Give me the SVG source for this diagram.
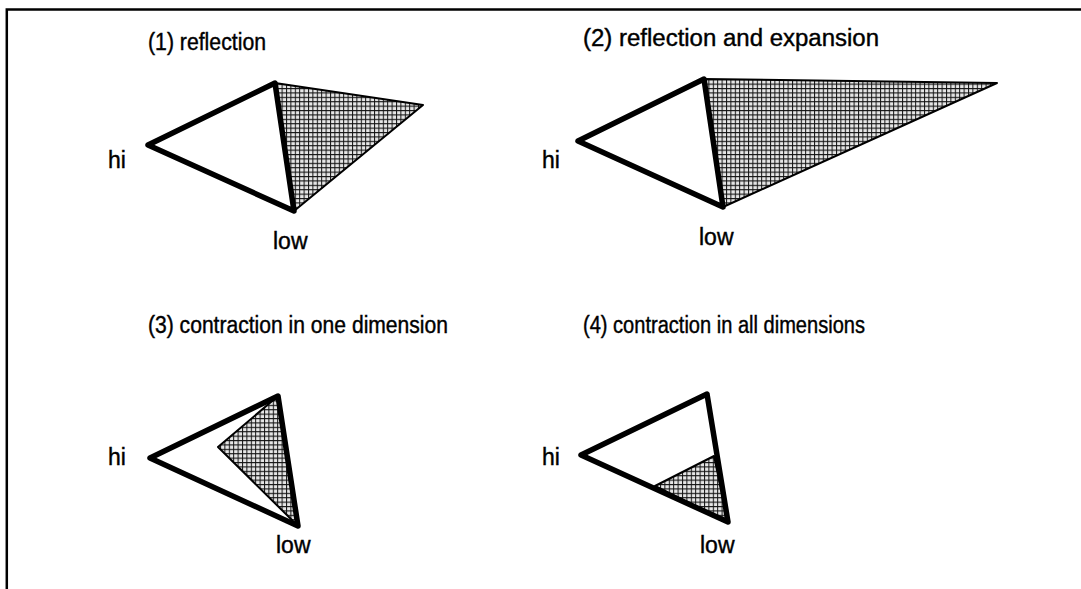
<svg xmlns="http://www.w3.org/2000/svg" width="1081" height="589" viewBox="0 0 1081 589">
<defs>
<pattern id="grid" patternUnits="userSpaceOnUse" width="4.4" height="4.4">
<rect width="4.4" height="4.4" fill="#e6e6e6"/>
<path d="M0 0.5H4.4M0.5 0V4.4" stroke="#111" stroke-width="1"/>
</pattern>
</defs>
<style>
.t{font-family:"Liberation Sans",Arial,sans-serif;font-size:23px;fill:#000;stroke:#000;stroke-width:0.4}
.thick{fill:none;stroke:#000;stroke-width:5.5;stroke-linejoin:round;stroke-linecap:round}
.thin{fill:url(#grid);stroke:#000;stroke-width:2;stroke-linejoin:round}
.frame{fill:none;stroke:#000;stroke-width:2.5}
</style>
<rect width="1081" height="589" fill="#fff"/>
<path class="frame" d="M6.8 589V9.5H1081"/>
<g id="panel1">
<text class="t" x="148" y="50" textLength="118" lengthAdjust="spacingAndGlyphs">(1) reflection</text>
<polygon class="thin" points="275,83 423,105 294,211"/>
<polygon class="thick" points="148,145 275,83 294,211"/>
<text class="t" x="108" y="168">hi</text>
<text class="t" x="273" y="249">low</text>
</g>
<g id="panel2">
<text class="t" x="583" y="46" textLength="296" lengthAdjust="spacingAndGlyphs">(2) reflection and expansion</text>
<polygon class="thin" points="704,79 997,83 723,207"/>
<polygon class="thick" points="578,141 704,79 723,207"/>
<text class="t" x="542" y="168">hi</text>
<text class="t" x="699" y="245">low</text>
</g>
<g id="panel3">
<text class="t" x="148" y="333" textLength="300" lengthAdjust="spacingAndGlyphs">(3) contraction in one dimension</text>
<polygon class="thin" points="218,447 278,396 298,526"/>
<polygon class="thick" points="150,458 278,396 298,526"/>
<text class="t" x="108" y="465">hi</text>
<text class="t" x="276" y="553">low</text>
</g>
<g id="panel4">
<text class="t" x="583" y="333" textLength="282" lengthAdjust="spacingAndGlyphs">(4) contraction in all dimensions</text>
<polygon class="thin" points="655,486 714,456 728,522"/>
<polygon class="thick" points="581,455 707,394 728,522"/>
<text class="t" x="542" y="465">hi</text>
<text class="t" x="700" y="553">low</text>
</g>
</svg>
